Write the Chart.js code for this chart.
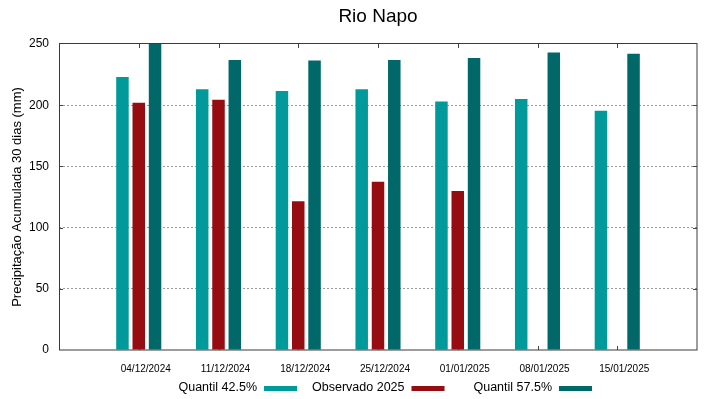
<!DOCTYPE html>
<html lang="pt">
<head>
<meta charset="UTF-8">
<title>Rio Napo</title>
<script src="https://cdn.jsdelivr.net/npm/chart.js"></script>
<style>
  html, body { margin: 0; padding: 0; background: #fff; }
  #wrap { width: 719px; height: 399px; }
</style>
</head>
<body>
<div id="wrap"><canvas id="napoChart" width="719" height="399"></canvas></div>
<script>
  const chartTitle = 'Rio Napo';
  const yTitle = 'Precipitação Acumulada 30 dias (mm)';
  const dates = ['04/12/2024', '11/12/2024', '18/12/2024', '25/12/2024', '01/01/2025', '08/01/2025', '15/01/2025'];
  const quantil425 = [223, 213, 211.5, 213, 203, 205, 195.5];
  const observado2025 = [202, 204.5, 121.5, 137.5, 130, null, null];
  const quantil575 = [252, 237, 236.5, 237, 238.5, 243, 242];
  const yTicks = [0, 50, 100, 150, 200, 250];

  const FONT = '"Liberation Sans", Arial, sans-serif';
  const colCyan = '#009a9a';
  const colRed = '#950d10';
  const colTeal = '#006868';

  // empty slot at each end so the first/last dates sit one step in from the border
  const labels = [''].concat(dates, ['']);
  const pad = (arr) => [null].concat(arr, [null]);

  const gnuplotFrame = {
    id: 'gnuplotFrame',
    beforeDatasetsDraw(chart) {
      const {ctx, chartArea: a, scales: {x, y}} = chart;
      ctx.save();
      ctx.strokeStyle = '#444';
      ctx.lineWidth = 1;
      ctx.beginPath();
      for (let i = 1; i <= dates.length; i++) {
        const px = Math.round(x.getPixelForValue(i)) + 0.5;
        ctx.moveTo(px, a.bottom); ctx.lineTo(px, a.bottom - 4);
        ctx.moveTo(px, a.top); ctx.lineTo(px, a.top + 4);
      }
      yTicks.slice(1, -1).forEach(v => {
        const py = Math.round(y.getPixelForValue(v)) + 0.5;
        ctx.moveTo(a.left, py); ctx.lineTo(a.left + 4, py);
        ctx.moveTo(a.right, py); ctx.lineTo(a.right - 4, py);
      });
      ctx.stroke();
      ctx.restore();
    },
    afterDatasetsDraw(chart) {
      const {ctx, chartArea: a} = chart;
      ctx.save();
      ctx.strokeStyle = '#3a3a3a';
      ctx.lineWidth = 1;
      ctx.strokeRect(a.left + 0.5, a.top - 0.5, a.right - a.left - 0.5, a.bottom - a.top + 0.5);

      ctx.fillStyle = '#000';
      ctx.font = '19px ' + FONT;
      ctx.textAlign = 'center';
      ctx.textBaseline = 'alphabetic';
      ctx.fillText(chartTitle, (a.left + a.right) / 2, 22);

      // key: text first, then the sample, like gnuplot
      ctx.font = '12.5px ' + FONT;
      ctx.textAlign = 'right';
      chart.data.datasets.forEach((ds, i) => {
        const sx = 264 + i * 147.5;
        ctx.fillStyle = '#000';
        ctx.fillText(ds.label, sx - 7, 391);
        ctx.fillStyle = ds.backgroundColor;
        ctx.fillRect(sx, 386, 33, 5);
      });
      ctx.restore();
    }
  };

  const napoChart = new Chart(document.getElementById('napoChart'), {
    type: 'bar',
    data: {
      labels: labels,
      datasets: [
        { label: 'Quantil 42.5%', data: pad(quantil425), backgroundColor: colCyan },
        { label: 'Observado 2025', data: pad(observado2025), backgroundColor: colRed },
        { label: 'Quantil 57.5%', data: pad(quantil575), backgroundColor: colTeal }
      ]
    },
    options: {
      responsive: false,
      animation: false,
      layout: { padding: { top: 44, right: 22, left: 0, bottom: 0 } },
      categoryPercentage: 0.613,
      barPercentage: 0.767,
      plugins: {
        legend: { display: false },
        title: { display: false },
        tooltip: { enabled: false }
      },
      scales: {
        x: {
          offset: false,
          grid: { display: false, drawTicks: false },
          border: { display: false },
          ticks: {
            autoSkip: false,
            maxRotation: 0,
            padding: 13,
            labelOffset: 7,
            color: '#000',
            font: { family: FONT, size: 10 }
          },
          afterFit(scale) { scale.height = 49; }
        },
        y: {
          min: 0,
          max: 250,
          afterBuildTicks(scale) { scale.ticks = yTicks.map(v => ({ value: v })); },
          grid: {
            drawTicks: false,
            lineWidth: 1,
            color: (c) => (c.tick && (c.tick.value === 0 || c.tick.value === 250)) ? 'rgba(0,0,0,0)' : '#9a9a9a'
          },
          border: { display: false, dash: [2, 2] },
          ticks: {
            padding: 10,
            color: '#000',
            font: { family: FONT, size: 12 }
          },
          title: {
            display: true,
            text: yTitle,
            color: '#000',
            padding: { top: 10, bottom: 0 },
            font: { family: FONT, size: 13 }
          },
          afterFit(scale) { scale.width = 59; }
        }
      }
    },
    plugins: [gnuplotFrame]
  });
</script>
</body>
</html>
